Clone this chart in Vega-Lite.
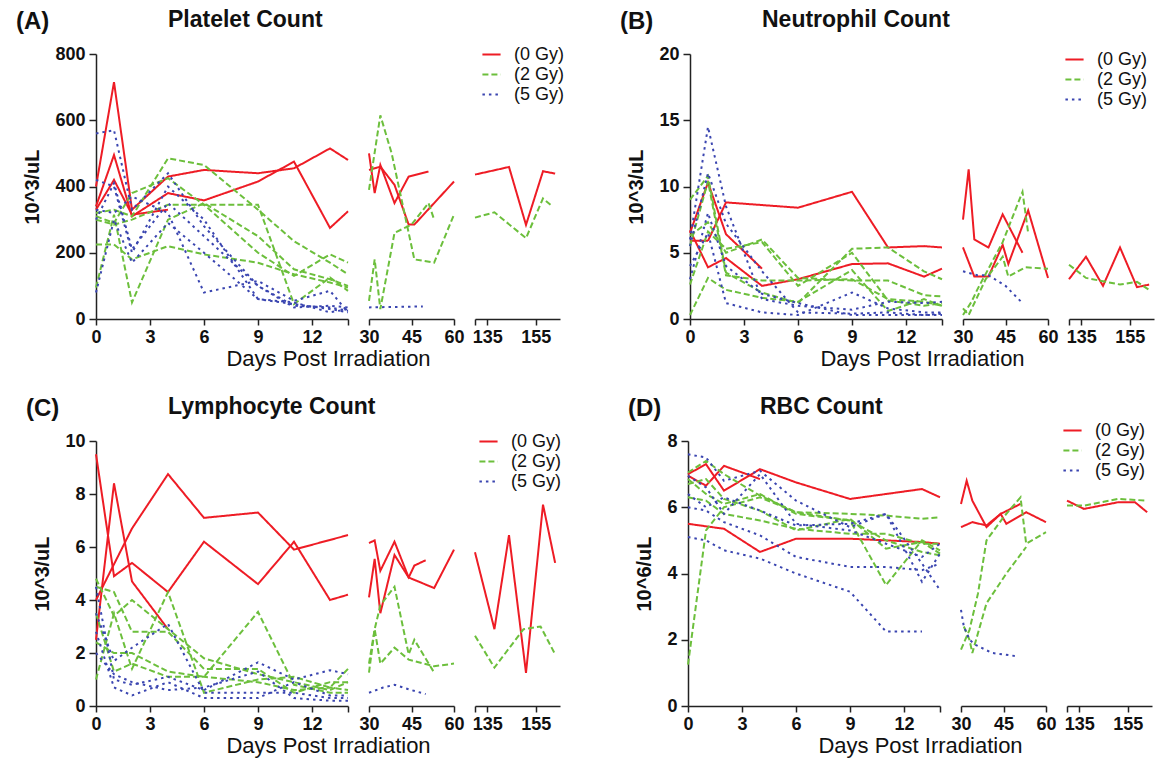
{
"$schema":"https://vega.github.io/schema/vega-lite/v6.json",
"padding":{"left":15,"top":9,"right":5,"bottom":2},
"background":"white",
"data":{"values":[
{"p":"A","id":"r1","g":"(0 Gy)","x":0,"y":400},{"p":"A","id":"r1","g":"(0 Gy)","x":1,"y":715},{"p":"A","id":"r1","g":"(0 Gy)","x":2,"y":330},{"p":"A","id":"r1","g":"(0 Gy)","x":4,"y":430},{"p":"A","id":"r1","g":"(0 Gy)","x":6,"y":450},{"p":"A","id":"r1","g":"(0 Gy)","x":9,"y":440},{"p":"A","id":"r1","g":"(0 Gy)","x":11,"y":455},{"p":"A","id":"r1","g":"(0 Gy)","x":13,"y":515},{"p":"A","id":"r1","g":"(0 Gy)","x":14,"y":480},
{"p":"A","id":"r1","g":"(0 Gy)","x":30,"y":500},{"p":"A","id":"r1","g":"(0 Gy)","x":32,"y":380},{"p":"A","id":"r1","g":"(0 Gy)","x":34,"y":465},{"p":"A","id":"r1","g":"(0 Gy)","x":39,"y":350},{"p":"A","id":"r1","g":"(0 Gy)","x":44,"y":430},{"p":"A","id":"r1","g":"(0 Gy)","x":51,"y":445},
{"p":"A","id":"r1","g":"(0 Gy)","x":130,"y":436},{"p":"A","id":"r1","g":"(0 Gy)","x":138,"y":449},{"p":"A","id":"r1","g":"(0 Gy)","x":144,"y":459},{"p":"A","id":"r1","g":"(0 Gy)","x":151,"y":284},{"p":"A","id":"r1","g":"(0 Gy)","x":158,"y":446},{"p":"A","id":"r1","g":"(0 Gy)","x":163,"y":439},
{"p":"A","id":"r2","g":"(0 Gy)","x":0,"y":340},{"p":"A","id":"r2","g":"(0 Gy)","x":1,"y":495},{"p":"A","id":"r2","g":"(0 Gy)","x":2,"y":310},{"p":"A","id":"r2","g":"(0 Gy)","x":4,"y":380},{"p":"A","id":"r2","g":"(0 Gy)","x":6,"y":358},{"p":"A","id":"r2","g":"(0 Gy)","x":9,"y":415},{"p":"A","id":"r2","g":"(0 Gy)","x":11,"y":475},{"p":"A","id":"r2","g":"(0 Gy)","x":13,"y":275},{"p":"A","id":"r2","g":"(0 Gy)","x":14,"y":325},
{"p":"A","id":"r2","g":"(0 Gy)","x":30,"y":450},{"p":"A","id":"r2","g":"(0 Gy)","x":34,"y":460},{"p":"A","id":"r2","g":"(0 Gy)","x":39,"y":405},{"p":"A","id":"r2","g":"(0 Gy)","x":44,"y":285},{"p":"A","id":"r2","g":"(0 Gy)","x":46,"y":285},{"p":"A","id":"r2","g":"(0 Gy)","x":60,"y":415},
{"p":"A","id":"r3","g":"(0 Gy)","x":0,"y":330},{"p":"A","id":"r3","g":"(0 Gy)","x":1,"y":420},{"p":"A","id":"r3","g":"(0 Gy)","x":2,"y":315},{"p":"A","id":"r3","g":"(0 Gy)","x":4,"y":330},
{"p":"A","id":"g1","g":"(2 Gy)","x":0,"y":320},{"p":"A","id":"g1","g":"(2 Gy)","x":1,"y":330},{"p":"A","id":"g1","g":"(2 Gy)","x":2,"y":310},{"p":"A","id":"g1","g":"(2 Gy)","x":4,"y":485},{"p":"A","id":"g1","g":"(2 Gy)","x":6,"y":465},{"p":"A","id":"g1","g":"(2 Gy)","x":9,"y":330},{"p":"A","id":"g1","g":"(2 Gy)","x":11,"y":235},{"p":"A","id":"g1","g":"(2 Gy)","x":13,"y":170},{"p":"A","id":"g1","g":"(2 Gy)","x":14,"y":135},
{"p":"A","id":"g1","g":"(2 Gy)","x":30,"y":390},{"p":"A","id":"g1","g":"(2 Gy)","x":34,"y":615},{"p":"A","id":"g1","g":"(2 Gy)","x":38,"y":500},{"p":"A","id":"g1","g":"(2 Gy)","x":46,"y":180},{"p":"A","id":"g1","g":"(2 Gy)","x":53,"y":170},{"p":"A","id":"g1","g":"(2 Gy)","x":60,"y":315},
{"p":"A","id":"g1","g":"(2 Gy)","x":130,"y":306},{"p":"A","id":"g1","g":"(2 Gy)","x":138,"y":322},{"p":"A","id":"g1","g":"(2 Gy)","x":151,"y":244},{"p":"A","id":"g1","g":"(2 Gy)","x":158,"y":364},{"p":"A","id":"g1","g":"(2 Gy)","x":162,"y":339},
{"p":"A","id":"g2","g":"(2 Gy)","x":0,"y":310},{"p":"A","id":"g2","g":"(2 Gy)","x":1,"y":290},{"p":"A","id":"g2","g":"(2 Gy)","x":2,"y":380},{"p":"A","id":"g2","g":"(2 Gy)","x":4,"y":425},{"p":"A","id":"g2","g":"(2 Gy)","x":6,"y":345},{"p":"A","id":"g2","g":"(2 Gy)","x":9,"y":345},{"p":"A","id":"g2","g":"(2 Gy)","x":11,"y":45},{"p":"A","id":"g2","g":"(2 Gy)","x":13,"y":125},{"p":"A","id":"g2","g":"(2 Gy)","x":14,"y":85},
{"p":"A","id":"g2","g":"(2 Gy)","x":30,"y":55},{"p":"A","id":"g2","g":"(2 Gy)","x":32,"y":180},{"p":"A","id":"g2","g":"(2 Gy)","x":34,"y":30},{"p":"A","id":"g2","g":"(2 Gy)","x":39,"y":260},{"p":"A","id":"g2","g":"(2 Gy)","x":45,"y":285},{"p":"A","id":"g2","g":"(2 Gy)","x":51,"y":350},{"p":"A","id":"g2","g":"(2 Gy)","x":53,"y":300},
{"p":"A","id":"g3","g":"(2 Gy)","x":0,"y":300},{"p":"A","id":"g3","g":"(2 Gy)","x":1,"y":285},{"p":"A","id":"g3","g":"(2 Gy)","x":2,"y":300},{"p":"A","id":"g3","g":"(2 Gy)","x":4,"y":345},{"p":"A","id":"g3","g":"(2 Gy)","x":6,"y":345},{"p":"A","id":"g3","g":"(2 Gy)","x":9,"y":200},{"p":"A","id":"g3","g":"(2 Gy)","x":11,"y":130},{"p":"A","id":"g3","g":"(2 Gy)","x":13,"y":195},{"p":"A","id":"g3","g":"(2 Gy)","x":14,"y":170},
{"p":"A","id":"g4","g":"(2 Gy)","x":0,"y":225},{"p":"A","id":"g4","g":"(2 Gy)","x":1,"y":225},{"p":"A","id":"g4","g":"(2 Gy)","x":2,"y":180},{"p":"A","id":"g4","g":"(2 Gy)","x":4,"y":220},{"p":"A","id":"g4","g":"(2 Gy)","x":6,"y":195},{"p":"A","id":"g4","g":"(2 Gy)","x":9,"y":170},{"p":"A","id":"g4","g":"(2 Gy)","x":11,"y":135},{"p":"A","id":"g4","g":"(2 Gy)","x":13,"y":110},{"p":"A","id":"g4","g":"(2 Gy)","x":14,"y":95},
{"p":"A","id":"g5","g":"(2 Gy)","x":0,"y":95},{"p":"A","id":"g5","g":"(2 Gy)","x":1,"y":315},{"p":"A","id":"g5","g":"(2 Gy)","x":2,"y":50},{"p":"A","id":"g5","g":"(2 Gy)","x":4,"y":300},{"p":"A","id":"g5","g":"(2 Gy)","x":6,"y":350},{"p":"A","id":"g5","g":"(2 Gy)","x":9,"y":250},{"p":"A","id":"g5","g":"(2 Gy)","x":11,"y":150},{"p":"A","id":"g5","g":"(2 Gy)","x":13,"y":120},{"p":"A","id":"g5","g":"(2 Gy)","x":14,"y":100},
{"p":"A","id":"b1","g":"(5 Gy)","x":0,"y":560},{"p":"A","id":"b1","g":"(5 Gy)","x":1,"y":570},{"p":"A","id":"b1","g":"(5 Gy)","x":2,"y":330},{"p":"A","id":"b1","g":"(5 Gy)","x":4,"y":440},{"p":"A","id":"b1","g":"(5 Gy)","x":6,"y":280},{"p":"A","id":"b1","g":"(5 Gy)","x":9,"y":100},{"p":"A","id":"b1","g":"(5 Gy)","x":11,"y":40},{"p":"A","id":"b1","g":"(5 Gy)","x":13,"y":35},{"p":"A","id":"b1","g":"(5 Gy)","x":14,"y":25},
{"p":"A","id":"b1","g":"(5 Gy)","x":30,"y":35},{"p":"A","id":"b1","g":"(5 Gy)","x":49,"y":38},
{"p":"A","id":"b2","g":"(5 Gy)","x":0,"y":420},{"p":"A","id":"b2","g":"(5 Gy)","x":1,"y":400},{"p":"A","id":"b2","g":"(5 Gy)","x":2,"y":200},{"p":"A","id":"b2","g":"(5 Gy)","x":4,"y":400},{"p":"A","id":"b2","g":"(5 Gy)","x":6,"y":300},{"p":"A","id":"b2","g":"(5 Gy)","x":9,"y":60},{"p":"A","id":"b2","g":"(5 Gy)","x":11,"y":50},{"p":"A","id":"b2","g":"(5 Gy)","x":13,"y":20},{"p":"A","id":"b2","g":"(5 Gy)","x":14,"y":30},
{"p":"A","id":"b3","g":"(5 Gy)","x":0,"y":330},{"p":"A","id":"b3","g":"(5 Gy)","x":1,"y":320},{"p":"A","id":"b3","g":"(5 Gy)","x":2,"y":370},{"p":"A","id":"b3","g":"(5 Gy)","x":4,"y":320},{"p":"A","id":"b3","g":"(5 Gy)","x":6,"y":80},{"p":"A","id":"b3","g":"(5 Gy)","x":9,"y":115},{"p":"A","id":"b3","g":"(5 Gy)","x":11,"y":55},{"p":"A","id":"b3","g":"(5 Gy)","x":13,"y":85},{"p":"A","id":"b3","g":"(5 Gy)","x":14,"y":20},
{"p":"A","id":"b4","g":"(5 Gy)","x":0,"y":80},{"p":"A","id":"b4","g":"(5 Gy)","x":1,"y":300},{"p":"A","id":"b4","g":"(5 Gy)","x":2,"y":170},{"p":"A","id":"b4","g":"(5 Gy)","x":4,"y":290},{"p":"A","id":"b4","g":"(5 Gy)","x":6,"y":200},{"p":"A","id":"b4","g":"(5 Gy)","x":9,"y":60},{"p":"A","id":"b4","g":"(5 Gy)","x":11,"y":45},{"p":"A","id":"b4","g":"(5 Gy)","x":13,"y":30},{"p":"A","id":"b4","g":"(5 Gy)","x":14,"y":20},
{"p":"A","id":"b5","g":"(5 Gy)","x":0,"y":300},{"p":"A","id":"b5","g":"(5 Gy)","x":1,"y":410},{"p":"A","id":"b5","g":"(5 Gy)","x":2,"y":210},{"p":"A","id":"b5","g":"(5 Gy)","x":4,"y":350},{"p":"A","id":"b5","g":"(5 Gy)","x":6,"y":250},{"p":"A","id":"b5","g":"(5 Gy)","x":9,"y":100},{"p":"A","id":"b5","g":"(5 Gy)","x":11,"y":35},{"p":"A","id":"b5","g":"(5 Gy)","x":13,"y":40},{"p":"A","id":"b5","g":"(5 Gy)","x":14,"y":35},

{"p":"B","id":"r1","g":"(0 Gy)","x":0,"y":6.5},{"p":"B","id":"r1","g":"(0 Gy)","x":1,"y":10.3},{"p":"B","id":"r1","g":"(0 Gy)","x":2,"y":6.4},{"p":"B","id":"r1","g":"(0 Gy)","x":4,"y":3.8},
{"p":"B","id":"r2","g":"(0 Gy)","x":0,"y":5.9},{"p":"B","id":"r2","g":"(0 Gy)","x":1,"y":5.9},{"p":"B","id":"r2","g":"(0 Gy)","x":2,"y":8.8},{"p":"B","id":"r2","g":"(0 Gy)","x":6,"y":8.4},{"p":"B","id":"r2","g":"(0 Gy)","x":9,"y":9.6},{"p":"B","id":"r2","g":"(0 Gy)","x":11,"y":5.4},{"p":"B","id":"r2","g":"(0 Gy)","x":13,"y":5.5},{"p":"B","id":"r2","g":"(0 Gy)","x":14,"y":5.4},
{"p":"B","id":"r2","g":"(0 Gy)","x":30,"y":7.5},{"p":"B","id":"r2","g":"(0 Gy)","x":32,"y":11.3},{"p":"B","id":"r2","g":"(0 Gy)","x":34,"y":6.0},{"p":"B","id":"r2","g":"(0 Gy)","x":39,"y":5.4},{"p":"B","id":"r2","g":"(0 Gy)","x":44,"y":7.9},{"p":"B","id":"r2","g":"(0 Gy)","x":51,"y":5.0},
{"p":"B","id":"r2","g":"(0 Gy)","x":130,"y":3.0},{"p":"B","id":"r2","g":"(0 Gy)","x":137,"y":4.7},{"p":"B","id":"r2","g":"(0 Gy)","x":144,"y":2.5},{"p":"B","id":"r2","g":"(0 Gy)","x":151,"y":5.4},{"p":"B","id":"r2","g":"(0 Gy)","x":158,"y":2.4},{"p":"B","id":"r2","g":"(0 Gy)","x":163,"y":2.6},
{"p":"B","id":"r3","g":"(0 Gy)","x":0,"y":6.7},{"p":"B","id":"r3","g":"(0 Gy)","x":1,"y":3.9},{"p":"B","id":"r3","g":"(0 Gy)","x":2,"y":4.6},{"p":"B","id":"r3","g":"(0 Gy)","x":4,"y":2.5},{"p":"B","id":"r3","g":"(0 Gy)","x":6,"y":3.0},{"p":"B","id":"r3","g":"(0 Gy)","x":9,"y":4.15},{"p":"B","id":"r3","g":"(0 Gy)","x":11,"y":4.2},{"p":"B","id":"r3","g":"(0 Gy)","x":13,"y":3.2},{"p":"B","id":"r3","g":"(0 Gy)","x":14,"y":3.8},
{"p":"B","id":"r3","g":"(0 Gy)","x":30,"y":5.4},{"p":"B","id":"r3","g":"(0 Gy)","x":34,"y":3.2},{"p":"B","id":"r3","g":"(0 Gy)","x":39,"y":3.2},{"p":"B","id":"r3","g":"(0 Gy)","x":44,"y":5.6},{"p":"B","id":"r3","g":"(0 Gy)","x":46,"y":4.15},{"p":"B","id":"r3","g":"(0 Gy)","x":53,"y":8.2},{"p":"B","id":"r3","g":"(0 Gy)","x":60,"y":3.1},
{"p":"B","id":"g1","g":"(2 Gy)","x":0,"y":9.0},{"p":"B","id":"g1","g":"(2 Gy)","x":1,"y":10.8},{"p":"B","id":"g1","g":"(2 Gy)","x":2,"y":3.5},{"p":"B","id":"g1","g":"(2 Gy)","x":4,"y":2.0},{"p":"B","id":"g1","g":"(2 Gy)","x":6,"y":1.2},{"p":"B","id":"g1","g":"(2 Gy)","x":9,"y":5.3},{"p":"B","id":"g1","g":"(2 Gy)","x":11,"y":5.4},{"p":"B","id":"g1","g":"(2 Gy)","x":13,"y":3.6},{"p":"B","id":"g1","g":"(2 Gy)","x":14,"y":3.0},
{"p":"B","id":"g1","g":"(2 Gy)","x":30,"y":0.3},{"p":"B","id":"g1","g":"(2 Gy)","x":33,"y":1.3},{"p":"B","id":"g1","g":"(2 Gy)","x":35,"y":2.2},{"p":"B","id":"g1","g":"(2 Gy)","x":44,"y":5.8},{"p":"B","id":"g1","g":"(2 Gy)","x":51,"y":9.6},{"p":"B","id":"g1","g":"(2 Gy)","x":53,"y":6.5},
{"p":"B","id":"g1","g":"(2 Gy)","x":130,"y":4.1},{"p":"B","id":"g1","g":"(2 Gy)","x":137,"y":3.1},{"p":"B","id":"g1","g":"(2 Gy)","x":151,"y":2.6},{"p":"B","id":"g1","g":"(2 Gy)","x":158,"y":2.8},{"p":"B","id":"g1","g":"(2 Gy)","x":163,"y":2.2},
{"p":"B","id":"g2","g":"(2 Gy)","x":0,"y":6.3},{"p":"B","id":"g2","g":"(2 Gy)","x":1,"y":7.3},{"p":"B","id":"g2","g":"(2 Gy)","x":2,"y":5.0},{"p":"B","id":"g2","g":"(2 Gy)","x":4,"y":6.0},{"p":"B","id":"g2","g":"(2 Gy)","x":6,"y":3.1},{"p":"B","id":"g2","g":"(2 Gy)","x":9,"y":2.9},{"p":"B","id":"g2","g":"(2 Gy)","x":11,"y":2.9},{"p":"B","id":"g2","g":"(2 Gy)","x":13,"y":1.8},{"p":"B","id":"g2","g":"(2 Gy)","x":14,"y":1.7},
{"p":"B","id":"g2","g":"(2 Gy)","x":30,"y":0.8},{"p":"B","id":"g2","g":"(2 Gy)","x":32,"y":0.3},{"p":"B","id":"g2","g":"(2 Gy)","x":38,"y":3.0},{"p":"B","id":"g2","g":"(2 Gy)","x":44,"y":4.7},{"p":"B","id":"g2","g":"(2 Gy)","x":46,"y":3.2},{"p":"B","id":"g2","g":"(2 Gy)","x":52,"y":3.9},{"p":"B","id":"g2","g":"(2 Gy)","x":60,"y":3.8},
{"p":"B","id":"g3","g":"(2 Gy)","x":0,"y":2.6},{"p":"B","id":"g3","g":"(2 Gy)","x":1,"y":6.6},{"p":"B","id":"g3","g":"(2 Gy)","x":2,"y":5.3},{"p":"B","id":"g3","g":"(2 Gy)","x":4,"y":5.8},{"p":"B","id":"g3","g":"(2 Gy)","x":6,"y":2.5},{"p":"B","id":"g3","g":"(2 Gy)","x":9,"y":5.0},{"p":"B","id":"g3","g":"(2 Gy)","x":11,"y":1.4},{"p":"B","id":"g3","g":"(2 Gy)","x":13,"y":1.0},{"p":"B","id":"g3","g":"(2 Gy)","x":14,"y":1.2},
{"p":"B","id":"g4","g":"(2 Gy)","x":0,"y":0.3},{"p":"B","id":"g4","g":"(2 Gy)","x":1,"y":3.1},{"p":"B","id":"g4","g":"(2 Gy)","x":2,"y":2.2},{"p":"B","id":"g4","g":"(2 Gy)","x":4,"y":1.6},{"p":"B","id":"g4","g":"(2 Gy)","x":6,"y":1.3},{"p":"B","id":"g4","g":"(2 Gy)","x":9,"y":3.7},{"p":"B","id":"g4","g":"(2 Gy)","x":11,"y":0.6},{"p":"B","id":"g4","g":"(2 Gy)","x":13,"y":1.5},{"p":"B","id":"g4","g":"(2 Gy)","x":14,"y":1.0},
{"p":"B","id":"g5","g":"(2 Gy)","x":0,"y":5.5},{"p":"B","id":"g5","g":"(2 Gy)","x":1,"y":10.4},{"p":"B","id":"g5","g":"(2 Gy)","x":2,"y":3.3},{"p":"B","id":"g5","g":"(2 Gy)","x":4,"y":2.9},{"p":"B","id":"g5","g":"(2 Gy)","x":6,"y":2.9},{"p":"B","id":"g5","g":"(2 Gy)","x":9,"y":3.0},{"p":"B","id":"g5","g":"(2 Gy)","x":11,"y":1.5},{"p":"B","id":"g5","g":"(2 Gy)","x":13,"y":1.3},{"p":"B","id":"g5","g":"(2 Gy)","x":14,"y":1.0},
{"p":"B","id":"b1","g":"(5 Gy)","x":0,"y":6.0},{"p":"B","id":"b1","g":"(5 Gy)","x":1,"y":14.5},{"p":"B","id":"b1","g":"(5 Gy)","x":2,"y":8.5},{"p":"B","id":"b1","g":"(5 Gy)","x":4,"y":1.5},{"p":"B","id":"b1","g":"(5 Gy)","x":6,"y":1.0},{"p":"B","id":"b1","g":"(5 Gy)","x":9,"y":0.7},{"p":"B","id":"b1","g":"(5 Gy)","x":11,"y":1.3},{"p":"B","id":"b1","g":"(5 Gy)","x":13,"y":1.2},{"p":"B","id":"b1","g":"(5 Gy)","x":14,"y":1.3},
{"p":"B","id":"b1","g":"(5 Gy)","x":30,"y":3.6},{"p":"B","id":"b1","g":"(5 Gy)","x":35,"y":3.3},{"p":"B","id":"b1","g":"(5 Gy)","x":39,"y":3.3},{"p":"B","id":"b1","g":"(5 Gy)","x":45,"y":2.5},{"p":"B","id":"b1","g":"(5 Gy)","x":51,"y":1.2},
{"p":"B","id":"b2","g":"(5 Gy)","x":0,"y":5.5},{"p":"B","id":"b2","g":"(5 Gy)","x":1,"y":11.0},{"p":"B","id":"b2","g":"(5 Gy)","x":2,"y":7.2},{"p":"B","id":"b2","g":"(5 Gy)","x":4,"y":3.6},{"p":"B","id":"b2","g":"(5 Gy)","x":6,"y":0.5},{"p":"B","id":"b2","g":"(5 Gy)","x":9,"y":0.4},{"p":"B","id":"b2","g":"(5 Gy)","x":11,"y":0.5},{"p":"B","id":"b2","g":"(5 Gy)","x":13,"y":0.3},{"p":"B","id":"b2","g":"(5 Gy)","x":14,"y":0.4},
{"p":"B","id":"b3","g":"(5 Gy)","x":0,"y":4.0},{"p":"B","id":"b3","g":"(5 Gy)","x":1,"y":6.5},{"p":"B","id":"b3","g":"(5 Gy)","x":2,"y":1.2},{"p":"B","id":"b3","g":"(5 Gy)","x":4,"y":0.5},{"p":"B","id":"b3","g":"(5 Gy)","x":6,"y":0.3},{"p":"B","id":"b3","g":"(5 Gy)","x":9,"y":2.0},{"p":"B","id":"b3","g":"(5 Gy)","x":11,"y":0.8},{"p":"B","id":"b3","g":"(5 Gy)","x":13,"y":0.5},{"p":"B","id":"b3","g":"(5 Gy)","x":14,"y":0.5},
{"p":"B","id":"b4","g":"(5 Gy)","x":0,"y":3.0},{"p":"B","id":"b4","g":"(5 Gy)","x":1,"y":8.0},{"p":"B","id":"b4","g":"(5 Gy)","x":2,"y":4.0},{"p":"B","id":"b4","g":"(5 Gy)","x":4,"y":1.9},{"p":"B","id":"b4","g":"(5 Gy)","x":6,"y":1.2},{"p":"B","id":"b4","g":"(5 Gy)","x":9,"y":0.3},{"p":"B","id":"b4","g":"(5 Gy)","x":11,"y":0.3},{"p":"B","id":"b4","g":"(5 Gy)","x":13,"y":0.3},{"p":"B","id":"b4","g":"(5 Gy)","x":14,"y":0.3},

{"p":"C","id":"r1","g":"(0 Gy)","x":0,"y":9.5},{"p":"C","id":"r1","g":"(0 Gy)","x":1,"y":4.9},{"p":"C","id":"r1","g":"(0 Gy)","x":2,"y":5.4},{"p":"C","id":"r1","g":"(0 Gy)","x":4,"y":4.3},{"p":"C","id":"r1","g":"(0 Gy)","x":6,"y":6.2},{"p":"C","id":"r1","g":"(0 Gy)","x":9,"y":4.6},{"p":"C","id":"r1","g":"(0 Gy)","x":11,"y":6.2},{"p":"C","id":"r1","g":"(0 Gy)","x":13,"y":4.0},{"p":"C","id":"r1","g":"(0 Gy)","x":14,"y":4.2},
{"p":"C","id":"r1","g":"(0 Gy)","x":30,"y":4.1},{"p":"C","id":"r1","g":"(0 Gy)","x":32,"y":5.55},{"p":"C","id":"r1","g":"(0 Gy)","x":34,"y":3.5},{"p":"C","id":"r1","g":"(0 Gy)","x":39,"y":5.7},{"p":"C","id":"r1","g":"(0 Gy)","x":44,"y":4.85},{"p":"C","id":"r1","g":"(0 Gy)","x":46,"y":5.3},{"p":"C","id":"r1","g":"(0 Gy)","x":50,"y":5.5},
{"p":"C","id":"r1","g":"(0 Gy)","x":130,"y":5.8},{"p":"C","id":"r1","g":"(0 Gy)","x":138,"y":2.9},{"p":"C","id":"r1","g":"(0 Gy)","x":144,"y":6.45},{"p":"C","id":"r1","g":"(0 Gy)","x":151,"y":1.25},{"p":"C","id":"r1","g":"(0 Gy)","x":158,"y":7.6},{"p":"C","id":"r1","g":"(0 Gy)","x":163,"y":5.4},
{"p":"C","id":"r2","g":"(0 Gy)","x":0,"y":2.5},{"p":"C","id":"r2","g":"(0 Gy)","x":1,"y":8.4},{"p":"C","id":"r2","g":"(0 Gy)","x":2,"y":4.7},{"p":"C","id":"r2","g":"(0 Gy)","x":4,"y":2.9},
{"p":"C","id":"r3","g":"(0 Gy)","x":0,"y":4.0},{"p":"C","id":"r3","g":"(0 Gy)","x":2,"y":6.7},{"p":"C","id":"r3","g":"(0 Gy)","x":4,"y":8.75},{"p":"C","id":"r3","g":"(0 Gy)","x":6,"y":7.1},{"p":"C","id":"r3","g":"(0 Gy)","x":9,"y":7.3},{"p":"C","id":"r3","g":"(0 Gy)","x":11,"y":5.9},{"p":"C","id":"r3","g":"(0 Gy)","x":14,"y":6.45},
{"p":"C","id":"r3","g":"(0 Gy)","x":30,"y":6.15},{"p":"C","id":"r3","g":"(0 Gy)","x":32,"y":6.25},{"p":"C","id":"r3","g":"(0 Gy)","x":34,"y":5.1},{"p":"C","id":"r3","g":"(0 Gy)","x":39,"y":6.2},{"p":"C","id":"r3","g":"(0 Gy)","x":44,"y":4.85},{"p":"C","id":"r3","g":"(0 Gy)","x":53,"y":4.45},{"p":"C","id":"r3","g":"(0 Gy)","x":60,"y":5.9},
{"p":"C","id":"g1","g":"(2 Gy)","x":0,"y":4.8},{"p":"C","id":"g1","g":"(2 Gy)","x":1,"y":3.4},{"p":"C","id":"g1","g":"(2 Gy)","x":2,"y":4.0},{"p":"C","id":"g1","g":"(2 Gy)","x":4,"y":2.9},{"p":"C","id":"g1","g":"(2 Gy)","x":6,"y":1.8},{"p":"C","id":"g1","g":"(2 Gy)","x":9,"y":1.2},{"p":"C","id":"g1","g":"(2 Gy)","x":11,"y":0.9},{"p":"C","id":"g1","g":"(2 Gy)","x":13,"y":0.6},{"p":"C","id":"g1","g":"(2 Gy)","x":14,"y":0.9},
{"p":"C","id":"g1","g":"(2 Gy)","x":30,"y":1.26},{"p":"C","id":"g1","g":"(2 Gy)","x":32,"y":2.9},{"p":"C","id":"g1","g":"(2 Gy)","x":34,"y":3.8},{"p":"C","id":"g1","g":"(2 Gy)","x":39,"y":4.5},{"p":"C","id":"g1","g":"(2 Gy)","x":44,"y":1.95},{"p":"C","id":"g1","g":"(2 Gy)","x":46,"y":2.5},{"p":"C","id":"g1","g":"(2 Gy)","x":53,"y":1.26},
{"p":"C","id":"g1","g":"(2 Gy)","x":130,"y":2.65},{"p":"C","id":"g1","g":"(2 Gy)","x":138,"y":1.45},{"p":"C","id":"g1","g":"(2 Gy)","x":150,"y":2.9},{"p":"C","id":"g1","g":"(2 Gy)","x":157,"y":3.0},{"p":"C","id":"g1","g":"(2 Gy)","x":163,"y":1.95},
{"p":"C","id":"g2","g":"(2 Gy)","x":0,"y":4.5},{"p":"C","id":"g2","g":"(2 Gy)","x":1,"y":4.3},{"p":"C","id":"g2","g":"(2 Gy)","x":2,"y":2.8},{"p":"C","id":"g2","g":"(2 Gy)","x":4,"y":2.8},{"p":"C","id":"g2","g":"(2 Gy)","x":6,"y":1.4},{"p":"C","id":"g2","g":"(2 Gy)","x":9,"y":1.4},{"p":"C","id":"g2","g":"(2 Gy)","x":11,"y":0.5},{"p":"C","id":"g2","g":"(2 Gy)","x":13,"y":0.9},{"p":"C","id":"g2","g":"(2 Gy)","x":14,"y":0.9},
{"p":"C","id":"g2","g":"(2 Gy)","x":30,"y":1.6},{"p":"C","id":"g2","g":"(2 Gy)","x":32,"y":2.9},{"p":"C","id":"g2","g":"(2 Gy)","x":34,"y":1.6},{"p":"C","id":"g2","g":"(2 Gy)","x":39,"y":2.2},{"p":"C","id":"g2","g":"(2 Gy)","x":44,"y":1.75},{"p":"C","id":"g2","g":"(2 Gy)","x":53,"y":1.5},{"p":"C","id":"g2","g":"(2 Gy)","x":60,"y":1.6},
{"p":"C","id":"g3","g":"(2 Gy)","x":0,"y":2.4},{"p":"C","id":"g3","g":"(2 Gy)","x":1,"y":2.0},{"p":"C","id":"g3","g":"(2 Gy)","x":2,"y":2.0},{"p":"C","id":"g3","g":"(2 Gy)","x":4,"y":1.3},{"p":"C","id":"g3","g":"(2 Gy)","x":6,"y":1.1},{"p":"C","id":"g3","g":"(2 Gy)","x":9,"y":3.55},{"p":"C","id":"g3","g":"(2 Gy)","x":11,"y":0.8},{"p":"C","id":"g3","g":"(2 Gy)","x":13,"y":0.5},{"p":"C","id":"g3","g":"(2 Gy)","x":14,"y":0.5},
{"p":"C","id":"g4","g":"(2 Gy)","x":0,"y":1.0},{"p":"C","id":"g4","g":"(2 Gy)","x":1,"y":3.5},{"p":"C","id":"g4","g":"(2 Gy)","x":2,"y":1.4},{"p":"C","id":"g4","g":"(2 Gy)","x":4,"y":4.3},{"p":"C","id":"g4","g":"(2 Gy)","x":6,"y":0.5},{"p":"C","id":"g4","g":"(2 Gy)","x":9,"y":1.0},{"p":"C","id":"g4","g":"(2 Gy)","x":11,"y":1.1},{"p":"C","id":"g4","g":"(2 Gy)","x":13,"y":0.7},{"p":"C","id":"g4","g":"(2 Gy)","x":14,"y":1.4},
{"p":"C","id":"g5","g":"(2 Gy)","x":0,"y":3.5},{"p":"C","id":"g5","g":"(2 Gy)","x":1,"y":1.3},{"p":"C","id":"g5","g":"(2 Gy)","x":2,"y":1.6},{"p":"C","id":"g5","g":"(2 Gy)","x":4,"y":1.1},{"p":"C","id":"g5","g":"(2 Gy)","x":6,"y":1.1},{"p":"C","id":"g5","g":"(2 Gy)","x":9,"y":0.9},{"p":"C","id":"g5","g":"(2 Gy)","x":11,"y":0.6},{"p":"C","id":"g5","g":"(2 Gy)","x":13,"y":0.7},{"p":"C","id":"g5","g":"(2 Gy)","x":14,"y":0.6},
{"p":"C","id":"b1","g":"(5 Gy)","x":0,"y":4.5},{"p":"C","id":"b1","g":"(5 Gy)","x":1,"y":1.0},{"p":"C","id":"b1","g":"(5 Gy)","x":2,"y":0.8},{"p":"C","id":"b1","g":"(5 Gy)","x":4,"y":1.1},{"p":"C","id":"b1","g":"(5 Gy)","x":6,"y":0.6},{"p":"C","id":"b1","g":"(5 Gy)","x":9,"y":1.65},{"p":"C","id":"b1","g":"(5 Gy)","x":11,"y":1.0},{"p":"C","id":"b1","g":"(5 Gy)","x":13,"y":1.35},{"p":"C","id":"b1","g":"(5 Gy)","x":14,"y":1.2},
{"p":"C","id":"b1","g":"(5 Gy)","x":30,"y":0.5},{"p":"C","id":"b1","g":"(5 Gy)","x":35,"y":0.7},{"p":"C","id":"b1","g":"(5 Gy)","x":39,"y":0.8},{"p":"C","id":"b1","g":"(5 Gy)","x":45,"y":0.6},{"p":"C","id":"b1","g":"(5 Gy)","x":50,"y":0.45},
{"p":"C","id":"b2","g":"(5 Gy)","x":0,"y":3.5},{"p":"C","id":"b2","g":"(5 Gy)","x":1,"y":1.7},{"p":"C","id":"b2","g":"(5 Gy)","x":2,"y":2.2},{"p":"C","id":"b2","g":"(5 Gy)","x":4,"y":3.1},{"p":"C","id":"b2","g":"(5 Gy)","x":6,"y":0.5},{"p":"C","id":"b2","g":"(5 Gy)","x":9,"y":0.5},{"p":"C","id":"b2","g":"(5 Gy)","x":11,"y":0.5},{"p":"C","id":"b2","g":"(5 Gy)","x":13,"y":0.3},{"p":"C","id":"b2","g":"(5 Gy)","x":14,"y":0.3},
{"p":"C","id":"b3","g":"(5 Gy)","x":0,"y":2.8},{"p":"C","id":"b3","g":"(5 Gy)","x":1,"y":0.7},{"p":"C","id":"b3","g":"(5 Gy)","x":2,"y":0.4},{"p":"C","id":"b3","g":"(5 Gy)","x":4,"y":0.9},{"p":"C","id":"b3","g":"(5 Gy)","x":6,"y":0.3},{"p":"C","id":"b3","g":"(5 Gy)","x":9,"y":0.3},{"p":"C","id":"b3","g":"(5 Gy)","x":11,"y":0.9},{"p":"C","id":"b3","g":"(5 Gy)","x":13,"y":0.4},{"p":"C","id":"b3","g":"(5 Gy)","x":14,"y":0.4},
{"p":"C","id":"b4","g":"(5 Gy)","x":0,"y":2.0},{"p":"C","id":"b4","g":"(5 Gy)","x":1,"y":1.2},{"p":"C","id":"b4","g":"(5 Gy)","x":2,"y":0.9},{"p":"C","id":"b4","g":"(5 Gy)","x":4,"y":0.6},{"p":"C","id":"b4","g":"(5 Gy)","x":6,"y":0.7},{"p":"C","id":"b4","g":"(5 Gy)","x":9,"y":1.3},{"p":"C","id":"b4","g":"(5 Gy)","x":11,"y":0.3},{"p":"C","id":"b4","g":"(5 Gy)","x":13,"y":0.2},{"p":"C","id":"b4","g":"(5 Gy)","x":14,"y":0.2},

{"p":"D","id":"r1","g":"(0 Gy)","x":0,"y":7.0},{"p":"D","id":"r1","g":"(0 Gy)","x":1,"y":7.3},{"p":"D","id":"r1","g":"(0 Gy)","x":2,"y":6.5},{"p":"D","id":"r1","g":"(0 Gy)","x":4,"y":7.15},{"p":"D","id":"r1","g":"(0 Gy)","x":6,"y":6.75},{"p":"D","id":"r1","g":"(0 Gy)","x":9,"y":6.25},{"p":"D","id":"r1","g":"(0 Gy)","x":13,"y":6.55},{"p":"D","id":"r1","g":"(0 Gy)","x":14,"y":6.3},
{"p":"D","id":"r1","g":"(0 Gy)","x":30,"y":6.1},{"p":"D","id":"r1","g":"(0 Gy)","x":32,"y":6.8},{"p":"D","id":"r1","g":"(0 Gy)","x":34,"y":6.2},{"p":"D","id":"r1","g":"(0 Gy)","x":39,"y":5.4},{"p":"D","id":"r1","g":"(0 Gy)","x":44,"y":5.8},{"p":"D","id":"r1","g":"(0 Gy)","x":51,"y":6.1},
{"p":"D","id":"r1","g":"(0 Gy)","x":130,"y":6.2},{"p":"D","id":"r1","g":"(0 Gy)","x":137,"y":5.95},{"p":"D","id":"r1","g":"(0 Gy)","x":151,"y":6.15},{"p":"D","id":"r1","g":"(0 Gy)","x":158,"y":6.15},{"p":"D","id":"r1","g":"(0 Gy)","x":163,"y":5.85},
{"p":"D","id":"r2","g":"(0 Gy)","x":0,"y":6.95},{"p":"D","id":"r2","g":"(0 Gy)","x":1,"y":6.65},{"p":"D","id":"r2","g":"(0 Gy)","x":2,"y":7.25},{"p":"D","id":"r2","g":"(0 Gy)","x":4,"y":6.85},
{"p":"D","id":"r3","g":"(0 Gy)","x":0,"y":5.5},{"p":"D","id":"r3","g":"(0 Gy)","x":2,"y":5.35},{"p":"D","id":"r3","g":"(0 Gy)","x":4,"y":4.65},{"p":"D","id":"r3","g":"(0 Gy)","x":6,"y":5.05},{"p":"D","id":"r3","g":"(0 Gy)","x":9,"y":5.05},{"p":"D","id":"r3","g":"(0 Gy)","x":13,"y":4.95},{"p":"D","id":"r3","g":"(0 Gy)","x":14,"y":4.9},
{"p":"D","id":"r3","g":"(0 Gy)","x":30,"y":5.4},{"p":"D","id":"r3","g":"(0 Gy)","x":34,"y":5.55},{"p":"D","id":"r3","g":"(0 Gy)","x":39,"y":5.45},{"p":"D","id":"r3","g":"(0 Gy)","x":44,"y":5.8},{"p":"D","id":"r3","g":"(0 Gy)","x":46,"y":5.5},{"p":"D","id":"r3","g":"(0 Gy)","x":53,"y":5.85},{"p":"D","id":"r3","g":"(0 Gy)","x":60,"y":5.55},
{"p":"D","id":"g1","g":"(2 Gy)","x":0,"y":7.05},{"p":"D","id":"g1","g":"(2 Gy)","x":1,"y":7.4},{"p":"D","id":"g1","g":"(2 Gy)","x":2,"y":7.0},{"p":"D","id":"g1","g":"(2 Gy)","x":4,"y":6.35},{"p":"D","id":"g1","g":"(2 Gy)","x":6,"y":5.85},{"p":"D","id":"g1","g":"(2 Gy)","x":9,"y":5.8},{"p":"D","id":"g1","g":"(2 Gy)","x":11,"y":5.75},{"p":"D","id":"g1","g":"(2 Gy)","x":13,"y":5.65},{"p":"D","id":"g1","g":"(2 Gy)","x":14,"y":5.7},
{"p":"D","id":"g1","g":"(2 Gy)","x":30,"y":1.7},{"p":"D","id":"g1","g":"(2 Gy)","x":33,"y":2.3},{"p":"D","id":"g1","g":"(2 Gy)","x":36,"y":3.4},{"p":"D","id":"g1","g":"(2 Gy)","x":39,"y":5.0},{"p":"D","id":"g1","g":"(2 Gy)","x":45,"y":5.7},{"p":"D","id":"g1","g":"(2 Gy)","x":51,"y":6.3},{"p":"D","id":"g1","g":"(2 Gy)","x":53,"y":4.9},{"p":"D","id":"g1","g":"(2 Gy)","x":60,"y":5.25},
{"p":"D","id":"g1","g":"(2 Gy)","x":130,"y":6.05},{"p":"D","id":"g1","g":"(2 Gy)","x":137,"y":6.05},{"p":"D","id":"g1","g":"(2 Gy)","x":151,"y":6.25},{"p":"D","id":"g1","g":"(2 Gy)","x":163,"y":6.2},
{"p":"D","id":"g2","g":"(2 Gy)","x":0,"y":6.85},{"p":"D","id":"g2","g":"(2 Gy)","x":1,"y":6.4},{"p":"D","id":"g2","g":"(2 Gy)","x":2,"y":6.1},{"p":"D","id":"g2","g":"(2 Gy)","x":4,"y":6.4},{"p":"D","id":"g2","g":"(2 Gy)","x":6,"y":5.8},{"p":"D","id":"g2","g":"(2 Gy)","x":9,"y":5.6},{"p":"D","id":"g2","g":"(2 Gy)","x":11,"y":3.65},{"p":"D","id":"g2","g":"(2 Gy)","x":13,"y":5.0},{"p":"D","id":"g2","g":"(2 Gy)","x":14,"y":4.7},
{"p":"D","id":"g2","g":"(2 Gy)","x":31,"y":2.4},{"p":"D","id":"g2","g":"(2 Gy)","x":33,"y":2.0},{"p":"D","id":"g2","g":"(2 Gy)","x":34,"y":1.6},{"p":"D","id":"g2","g":"(2 Gy)","x":39,"y":3.1},{"p":"D","id":"g2","g":"(2 Gy)","x":46,"y":4.0},{"p":"D","id":"g2","g":"(2 Gy)","x":53,"y":4.8},
{"p":"D","id":"g3","g":"(2 Gy)","x":0,"y":6.7},{"p":"D","id":"g3","g":"(2 Gy)","x":1,"y":6.85},{"p":"D","id":"g3","g":"(2 Gy)","x":2,"y":6.25},{"p":"D","id":"g3","g":"(2 Gy)","x":4,"y":5.9},{"p":"D","id":"g3","g":"(2 Gy)","x":6,"y":5.3},{"p":"D","id":"g3","g":"(2 Gy)","x":9,"y":5.65},{"p":"D","id":"g3","g":"(2 Gy)","x":11,"y":4.75},{"p":"D","id":"g3","g":"(2 Gy)","x":13,"y":4.95},{"p":"D","id":"g3","g":"(2 Gy)","x":14,"y":4.6},
{"p":"D","id":"g4","g":"(2 Gy)","x":0,"y":6.3},{"p":"D","id":"g4","g":"(2 Gy)","x":1,"y":6.2},{"p":"D","id":"g4","g":"(2 Gy)","x":2,"y":5.8},{"p":"D","id":"g4","g":"(2 Gy)","x":4,"y":5.6},{"p":"D","id":"g4","g":"(2 Gy)","x":6,"y":5.35},{"p":"D","id":"g4","g":"(2 Gy)","x":9,"y":5.2},{"p":"D","id":"g4","g":"(2 Gy)","x":11,"y":5.2},{"p":"D","id":"g4","g":"(2 Gy)","x":13,"y":4.9},{"p":"D","id":"g4","g":"(2 Gy)","x":14,"y":4.9},
{"p":"D","id":"g5","g":"(2 Gy)","x":0,"y":1.25},{"p":"D","id":"g5","g":"(2 Gy)","x":1,"y":5.3},{"p":"D","id":"g5","g":"(2 Gy)","x":2,"y":6.0},{"p":"D","id":"g5","g":"(2 Gy)","x":4,"y":6.3},{"p":"D","id":"g5","g":"(2 Gy)","x":6,"y":5.85},{"p":"D","id":"g5","g":"(2 Gy)","x":9,"y":5.6},{"p":"D","id":"g5","g":"(2 Gy)","x":11,"y":5.0},{"p":"D","id":"g5","g":"(2 Gy)","x":13,"y":4.65},{"p":"D","id":"g5","g":"(2 Gy)","x":14,"y":4.55},
{"p":"D","id":"b1","g":"(5 Gy)","x":0,"y":7.6},{"p":"D","id":"b1","g":"(5 Gy)","x":1,"y":7.5},{"p":"D","id":"b1","g":"(5 Gy)","x":2,"y":6.8},{"p":"D","id":"b1","g":"(5 Gy)","x":4,"y":7.1},{"p":"D","id":"b1","g":"(5 Gy)","x":6,"y":6.2},{"p":"D","id":"b1","g":"(5 Gy)","x":9,"y":5.4},{"p":"D","id":"b1","g":"(5 Gy)","x":11,"y":5.8},{"p":"D","id":"b1","g":"(5 Gy)","x":13,"y":4.3},{"p":"D","id":"b1","g":"(5 Gy)","x":14,"y":3.5},
{"p":"D","id":"b1","g":"(5 Gy)","x":30,"y":2.9},{"p":"D","id":"b1","g":"(5 Gy)","x":31,"y":2.4},{"p":"D","id":"b1","g":"(5 Gy)","x":33,"y":2.0},{"p":"D","id":"b1","g":"(5 Gy)","x":35,"y":1.85},{"p":"D","id":"b1","g":"(5 Gy)","x":41,"y":1.6},{"p":"D","id":"b1","g":"(5 Gy)","x":50,"y":1.5},
{"p":"D","id":"b2","g":"(5 Gy)","x":0,"y":6.95},{"p":"D","id":"b2","g":"(5 Gy)","x":1,"y":6.6},{"p":"D","id":"b2","g":"(5 Gy)","x":2,"y":5.8},{"p":"D","id":"b2","g":"(5 Gy)","x":4,"y":7.0},{"p":"D","id":"b2","g":"(5 Gy)","x":6,"y":5.5},{"p":"D","id":"b2","g":"(5 Gy)","x":9,"y":5.3},{"p":"D","id":"b2","g":"(5 Gy)","x":11,"y":4.9},{"p":"D","id":"b2","g":"(5 Gy)","x":13,"y":4.5},{"p":"D","id":"b2","g":"(5 Gy)","x":14,"y":4.9},
{"p":"D","id":"b3","g":"(5 Gy)","x":0,"y":6.4},{"p":"D","id":"b3","g":"(5 Gy)","x":1,"y":6.0},{"p":"D","id":"b3","g":"(5 Gy)","x":2,"y":6.3},{"p":"D","id":"b3","g":"(5 Gy)","x":4,"y":5.9},{"p":"D","id":"b3","g":"(5 Gy)","x":6,"y":5.45},{"p":"D","id":"b3","g":"(5 Gy)","x":9,"y":5.5},{"p":"D","id":"b3","g":"(5 Gy)","x":11,"y":5.8},{"p":"D","id":"b3","g":"(5 Gy)","x":13,"y":3.75},{"p":"D","id":"b3","g":"(5 Gy)","x":14,"y":4.6},
{"p":"D","id":"b4","g":"(5 Gy)","x":0,"y":6.0},{"p":"D","id":"b4","g":"(5 Gy)","x":1,"y":5.9},{"p":"D","id":"b4","g":"(5 Gy)","x":2,"y":5.55},{"p":"D","id":"b4","g":"(5 Gy)","x":4,"y":5.15},{"p":"D","id":"b4","g":"(5 Gy)","x":6,"y":4.5},{"p":"D","id":"b4","g":"(5 Gy)","x":9,"y":4.2},{"p":"D","id":"b4","g":"(5 Gy)","x":11,"y":4.2},{"p":"D","id":"b4","g":"(5 Gy)","x":13,"y":4.1},{"p":"D","id":"b4","g":"(5 Gy)","x":14,"y":4.3},
{"p":"D","id":"b5","g":"(5 Gy)","x":0,"y":5.1},{"p":"D","id":"b5","g":"(5 Gy)","x":1,"y":5.0},{"p":"D","id":"b5","g":"(5 Gy)","x":2,"y":4.7},{"p":"D","id":"b5","g":"(5 Gy)","x":4,"y":4.45},{"p":"D","id":"b5","g":"(5 Gy)","x":6,"y":4.0},{"p":"D","id":"b5","g":"(5 Gy)","x":9,"y":3.45},{"p":"D","id":"b5","g":"(5 Gy)","x":11,"y":2.25},{"p":"D","id":"b5","g":"(5 Gy)","x":13,"y":2.25}
]},
"spacing":27,
"resolve":{"legend":{"color":"independent","strokeDash":"independent"}},
"vconcat":[
{"spacing":54,"resolve":{"legend":{"color":"independent","strokeDash":"independent"}},"hconcat":[
 {"title":{"text":"(A)","anchor":"start","frame":"bounds","fontSize":24,"dx":-7,"dy":25,"offset":0},"spacing":21,"bounds":"flush",
  "resolve":{"legend":{"color":"independent","strokeDash":"independent"}},
  "hconcat":[
  {"width":252,"height":265,"title":{"text":"Platelet Count","anchor":"start","frame":"group","dx":72,"offset":13,"fontSize":23},
   "transform":[{"filter":{"and":[{"field":"p","equal":"A"},{"field":"x","range":[0,14]}]}}],
   "mark":{"type":"line","strokeWidth":2},
   "encoding":{
    "x":{"field":"x","type":"quantitative","scale":{"domain":[0,14],"nice":false,"zero":false},"axis":{"values":[0,3,6,9,12,14],"labelExpr":"datum.value==14?'':datum.label","title":"Days Post Irradiation","titleX":232}},
    "y":{"field":"y","type":"quantitative","scale":{"domain":[0,800],"nice":false},"axis":{"values":[0,200,400,600,800],"title":"10^3/uL"}},
    "color":{"field":"g","type":"nominal","scale":{"domain":["(0 Gy)","(2 Gy)","(5 Gy)"],"range":["#ee1c25","#6cbf3c","#3a45b0"]},"legend":null},
    "strokeDash":{"field":"g","type":"nominal","scale":{"domain":["(0 Gy)","(2 Gy)","(5 Gy)"],"range":[[1,0],[6,3],[2.5,4]]},"legend":null},
    "detail":{"field":"id"}}},
  {"width":85,"height":265,
   "transform":[{"filter":{"and":[{"field":"p","equal":"A"},{"field":"x","range":[30,60]}]}}],
   "mark":{"type":"line","strokeWidth":2},
   "encoding":{
    "x":{"field":"x","type":"quantitative","scale":{"domain":[30,60],"nice":false,"zero":false},"axis":{"values":[30,45,60],"title":null}},
    "y":{"field":"y","type":"quantitative","scale":{"domain":[0,800],"nice":false},"axis":null},
    "color":{"field":"g","type":"nominal","scale":{"domain":["(0 Gy)","(2 Gy)","(5 Gy)"],"range":["#ee1c25","#6cbf3c","#3a45b0"]},"legend":null},
    "strokeDash":{"field":"g","type":"nominal","scale":{"domain":["(0 Gy)","(2 Gy)","(5 Gy)"],"range":[[1,0],[6,3],[2.5,4]]},"legend":null},
    "detail":{"field":"id"}}},
  {"width":85,"height":265,
   "transform":[{"filter":{"and":[{"field":"p","equal":"A"},{"field":"x","range":[130,165]}]}}],
   "mark":{"type":"line","strokeWidth":2},
   "encoding":{
    "x":{"field":"x","type":"quantitative","scale":{"domain":[130,165],"nice":false,"zero":false},"axis":{"values":[130,135,155],"labelExpr":"datum.value==130?'':datum.label","title":null}},
    "y":{"field":"y","type":"quantitative","scale":{"domain":[0,800],"nice":false},"axis":null},
    "color":{"field":"g","type":"nominal","scale":{"domain":["(0 Gy)","(2 Gy)","(5 Gy)"],"range":["#ee1c25","#6cbf3c","#3a45b0"]},"legend":{"title":null,"orient":"none","legendX":6,"legendY":-10}},
    "strokeDash":{"field":"g","type":"nominal","scale":{"domain":["(0 Gy)","(2 Gy)","(5 Gy)"],"range":[[1,0],[6,3],[2.5,4]]},"legend":{"title":null,"orient":"none","legendX":6,"legendY":-10}},
    "detail":{"field":"id"}}}
 ]},
 {"title":{"text":"(B)","anchor":"start","frame":"bounds","fontSize":24,"dx":-7,"dy":25,"offset":0},"spacing":21,"bounds":"flush",
  "resolve":{"legend":{"color":"independent","strokeDash":"independent"}},
  "hconcat":[
  {"width":252,"height":265,"title":{"text":"Neutrophil Count","anchor":"start","frame":"group","dx":72,"offset":13,"fontSize":23},
   "transform":[{"filter":{"and":[{"field":"p","equal":"B"},{"field":"x","range":[0,14]}]}}],
   "mark":{"type":"line","strokeWidth":2},
   "encoding":{
    "x":{"field":"x","type":"quantitative","scale":{"domain":[0,14],"nice":false,"zero":false},"axis":{"values":[0,3,6,9,12,14],"labelExpr":"datum.value==14?'':datum.label","title":"Days Post Irradiation","titleX":232}},
    "y":{"field":"y","type":"quantitative","scale":{"domain":[0,20],"nice":false},"axis":{"values":[0,5,10,15,20],"title":"10^3/uL"}},
    "color":{"field":"g","type":"nominal","scale":{"domain":["(0 Gy)","(2 Gy)","(5 Gy)"],"range":["#ee1c25","#6cbf3c","#3a45b0"]},"legend":null},
    "strokeDash":{"field":"g","type":"nominal","scale":{"domain":["(0 Gy)","(2 Gy)","(5 Gy)"],"range":[[1,0],[6,3],[2.5,4]]},"legend":null},
    "detail":{"field":"id"}}},
  {"width":85,"height":265,
   "transform":[{"filter":{"and":[{"field":"p","equal":"B"},{"field":"x","range":[30,60]}]}}],
   "mark":{"type":"line","strokeWidth":2},
   "encoding":{
    "x":{"field":"x","type":"quantitative","scale":{"domain":[30,60],"nice":false,"zero":false},"axis":{"values":[30,45,60],"title":null}},
    "y":{"field":"y","type":"quantitative","scale":{"domain":[0,20],"nice":false},"axis":null},
    "color":{"field":"g","type":"nominal","scale":{"domain":["(0 Gy)","(2 Gy)","(5 Gy)"],"range":["#ee1c25","#6cbf3c","#3a45b0"]},"legend":null},
    "strokeDash":{"field":"g","type":"nominal","scale":{"domain":["(0 Gy)","(2 Gy)","(5 Gy)"],"range":[[1,0],[6,3],[2.5,4]]},"legend":null},
    "detail":{"field":"id"}}},
  {"width":85,"height":265,
   "transform":[{"filter":{"and":[{"field":"p","equal":"B"},{"field":"x","range":[130,165]}]}}],
   "mark":{"type":"line","strokeWidth":2},
   "encoding":{
    "x":{"field":"x","type":"quantitative","scale":{"domain":[130,165],"nice":false,"zero":false},"axis":{"values":[130,135,155],"labelExpr":"datum.value==130?'':datum.label","title":null}},
    "y":{"field":"y","type":"quantitative","scale":{"domain":[0,20],"nice":false},"axis":null},
    "color":{"field":"g","type":"nominal","scale":{"domain":["(0 Gy)","(2 Gy)","(5 Gy)"],"range":["#ee1c25","#6cbf3c","#3a45b0"]},"legend":{"title":null,"orient":"none","legendX":-5,"legendY":-5}},
    "strokeDash":{"field":"g","type":"nominal","scale":{"domain":["(0 Gy)","(2 Gy)","(5 Gy)"],"range":[[1,0],[6,3],[2.5,4]]},"legend":{"title":null,"orient":"none","legendX":-5,"legendY":-5}},
    "detail":{"field":"id"}}}
 ]}
]},
{"spacing":65,"resolve":{"legend":{"color":"independent","strokeDash":"independent"}},"hconcat":[
 {"title":{"text":"(C)","anchor":"start","frame":"bounds","fontSize":24,"dx":-7,"dy":25,"offset":0},"spacing":21,"bounds":"flush",
  "resolve":{"legend":{"color":"independent","strokeDash":"independent"}},
  "hconcat":[
  {"width":252,"height":265,"title":{"text":"Lymphocyte Count","anchor":"start","frame":"group","dx":72,"offset":13,"fontSize":23},
   "transform":[{"filter":{"and":[{"field":"p","equal":"C"},{"field":"x","range":[0,14]}]}}],
   "mark":{"type":"line","strokeWidth":2},
   "encoding":{
    "x":{"field":"x","type":"quantitative","scale":{"domain":[0,14],"nice":false,"zero":false},"axis":{"values":[0,3,6,9,12,14],"labelExpr":"datum.value==14?'':datum.label","title":"Days Post Irradiation","titleX":232}},
    "y":{"field":"y","type":"quantitative","scale":{"domain":[0,10],"nice":false},"axis":{"values":[0,2,4,6,8,10],"title":"10^3/uL"}},
    "color":{"field":"g","type":"nominal","scale":{"domain":["(0 Gy)","(2 Gy)","(5 Gy)"],"range":["#ee1c25","#6cbf3c","#3a45b0"]},"legend":null},
    "strokeDash":{"field":"g","type":"nominal","scale":{"domain":["(0 Gy)","(2 Gy)","(5 Gy)"],"range":[[1,0],[6,3],[2.5,4]]},"legend":null},
    "detail":{"field":"id"}}},
  {"width":85,"height":265,
   "transform":[{"filter":{"and":[{"field":"p","equal":"C"},{"field":"x","range":[30,60]}]}}],
   "mark":{"type":"line","strokeWidth":2},
   "encoding":{
    "x":{"field":"x","type":"quantitative","scale":{"domain":[30,60],"nice":false,"zero":false},"axis":{"values":[30,45,60],"title":null}},
    "y":{"field":"y","type":"quantitative","scale":{"domain":[0,10],"nice":false},"axis":null},
    "color":{"field":"g","type":"nominal","scale":{"domain":["(0 Gy)","(2 Gy)","(5 Gy)"],"range":["#ee1c25","#6cbf3c","#3a45b0"]},"legend":null},
    "strokeDash":{"field":"g","type":"nominal","scale":{"domain":["(0 Gy)","(2 Gy)","(5 Gy)"],"range":[[1,0],[6,3],[2.5,4]]},"legend":null},
    "detail":{"field":"id"}}},
  {"width":85,"height":265,
   "transform":[{"filter":{"and":[{"field":"p","equal":"C"},{"field":"x","range":[130,165]}]}}],
   "mark":{"type":"line","strokeWidth":2},
   "encoding":{
    "x":{"field":"x","type":"quantitative","scale":{"domain":[130,165],"nice":false,"zero":false},"axis":{"values":[130,135,155],"labelExpr":"datum.value==130?'':datum.label","title":null}},
    "y":{"field":"y","type":"quantitative","scale":{"domain":[0,10],"nice":false},"axis":null},
    "color":{"field":"g","type":"nominal","scale":{"domain":["(0 Gy)","(2 Gy)","(5 Gy)"],"range":["#ee1c25","#6cbf3c","#3a45b0"]},"legend":{"title":null,"orient":"none","legendX":3,"legendY":-10}},
    "strokeDash":{"field":"g","type":"nominal","scale":{"domain":["(0 Gy)","(2 Gy)","(5 Gy)"],"range":[[1,0],[6,3],[2.5,4]]},"legend":{"title":null,"orient":"none","legendX":3,"legendY":-10}},
    "detail":{"field":"id"}}}
 ]},
 {"title":{"text":"(D)","anchor":"start","frame":"bounds","fontSize":24,"dx":-7,"dy":25,"offset":0},"spacing":21,"bounds":"flush",
  "resolve":{"legend":{"color":"independent","strokeDash":"independent"}},
  "hconcat":[
  {"width":252,"height":265,"title":{"text":"RBC Count","anchor":"start","frame":"group","dx":72,"offset":13,"fontSize":23},
   "transform":[{"filter":{"and":[{"field":"p","equal":"D"},{"field":"x","range":[0,14]}]}}],
   "mark":{"type":"line","strokeWidth":2},
   "encoding":{
    "x":{"field":"x","type":"quantitative","scale":{"domain":[0,14],"nice":false,"zero":false},"axis":{"values":[0,3,6,9,12,14],"labelExpr":"datum.value==14?'':datum.label","title":"Days Post Irradiation","titleX":232}},
    "y":{"field":"y","type":"quantitative","scale":{"domain":[0,8],"nice":false},"axis":{"values":[0,2,4,6,8],"title":"10^6/uL"}},
    "color":{"field":"g","type":"nominal","scale":{"domain":["(0 Gy)","(2 Gy)","(5 Gy)"],"range":["#ee1c25","#6cbf3c","#3a45b0"]},"legend":null},
    "strokeDash":{"field":"g","type":"nominal","scale":{"domain":["(0 Gy)","(2 Gy)","(5 Gy)"],"range":[[1,0],[6,3],[2.5,4]]},"legend":null},
    "detail":{"field":"id"}}},
  {"width":85,"height":265,
   "transform":[{"filter":{"and":[{"field":"p","equal":"D"},{"field":"x","range":[30,60]}]}}],
   "mark":{"type":"line","strokeWidth":2},
   "encoding":{
    "x":{"field":"x","type":"quantitative","scale":{"domain":[30,60],"nice":false,"zero":false},"axis":{"values":[30,45,60],"title":null}},
    "y":{"field":"y","type":"quantitative","scale":{"domain":[0,8],"nice":false},"axis":null},
    "color":{"field":"g","type":"nominal","scale":{"domain":["(0 Gy)","(2 Gy)","(5 Gy)"],"range":["#ee1c25","#6cbf3c","#3a45b0"]},"legend":null},
    "strokeDash":{"field":"g","type":"nominal","scale":{"domain":["(0 Gy)","(2 Gy)","(5 Gy)"],"range":[[1,0],[6,3],[2.5,4]]},"legend":null},
    "detail":{"field":"id"}}},
  {"width":85,"height":265,
   "transform":[{"filter":{"and":[{"field":"p","equal":"D"},{"field":"x","range":[130,165]}]}}],
   "mark":{"type":"line","strokeWidth":2},
   "encoding":{
    "x":{"field":"x","type":"quantitative","scale":{"domain":[130,165],"nice":false,"zero":false},"axis":{"values":[130,135,155],"labelExpr":"datum.value==130?'':datum.label","title":null}},
    "y":{"field":"y","type":"quantitative","scale":{"domain":[0,8],"nice":false},"axis":null},
    "color":{"field":"g","type":"nominal","scale":{"domain":["(0 Gy)","(2 Gy)","(5 Gy)"],"range":["#ee1c25","#6cbf3c","#3a45b0"]},"legend":{"title":null,"orient":"none","legendX":-5,"legendY":-21}},
    "strokeDash":{"field":"g","type":"nominal","scale":{"domain":["(0 Gy)","(2 Gy)","(5 Gy)"],"range":[[1,0],[6,3],[2.5,4]]},"legend":{"title":null,"orient":"none","legendX":-5,"legendY":-21}},
    "detail":{"field":"id"}}}
 ]}
]}
],
"config":{
 "font":"Liberation Sans",
 "view":{"stroke":null},
 "title":{"font":"Liberation Sans","fontWeight":"bold","color":"#111"},
 "axis":{"labelFont":"Liberation Sans","labelFontSize":18,"labelFontWeight":"bold","labelColor":"#111","domainColor":"#222","tickColor":"#222","domainWidth":1.5,"tickWidth":1.5,"tickSize":6,"labelPadding":3,"grid":false,"labelFlush":false,"labelOverlap":false,"titleFont":"Liberation Sans","titleColor":"#111"},
 "axisX":{"titleFontWeight":"normal","titleFontSize":22,"titlePadding":2,"titleAlign":"center"},
 "axisY":{"titleFontWeight":"bold","titleFontSize":20,"titlePadding":12,"tickSize":7,"labelPadding":4},
 "legend":{"labelFont":"Liberation Sans","labelFontSize":18,"labelColor":"#111","symbolType":"stroke","symbolSize":330,"symbolStrokeWidth":2,"rowPadding":0,"labelOffset":12,"padding":0}
}
}
